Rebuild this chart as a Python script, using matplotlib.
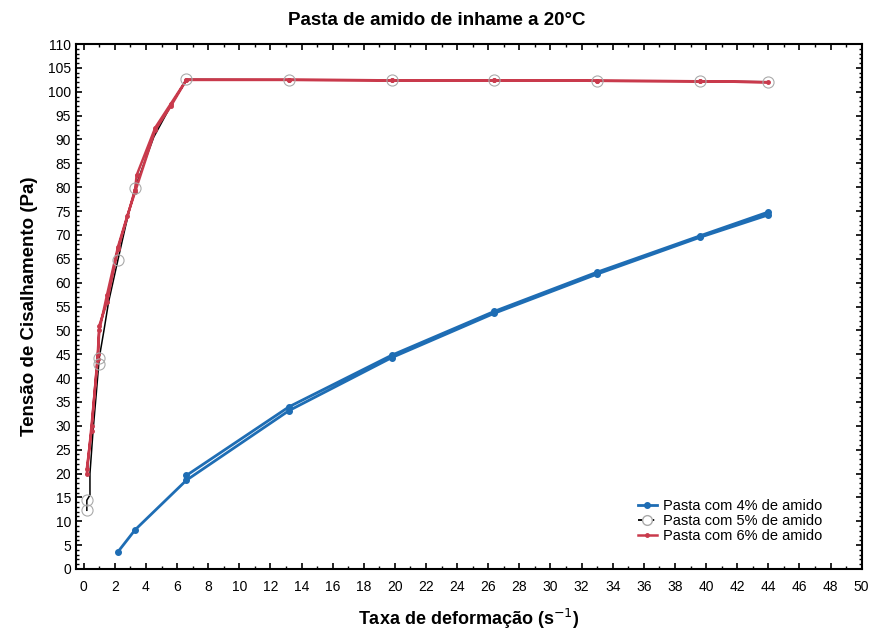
import matplotlib.pyplot as plt
from matplotlib.ticker import MultipleLocator

plt.rcParams['font.family'] = ['Liberation Sans', 'DejaVu Sans']

# -----------------------------
# Data: up curve, then back down
# -----------------------------
x_4 = [2.2, 3.3, 6.6, 13.2, 19.8, 26.4, 33.0, 39.6, 44.0,
       44.0, 39.6, 33.0, 26.4, 19.8, 13.2, 6.6]
y_4 = [3.6, 8.2, 18.6, 33.2, 44.3, 53.6, 61.8, 69.5, 74.2,
       74.8, 69.8, 62.2, 54.0, 44.8, 34.0, 19.6]

x_5 = [0.2, 0.2, 0.4, 0.4, 0.6, 0.8, 1.0, 1.3, 1.6, 2.2, 2.7, 3.3, 4.5, 5.5, 6.6,
       13.2, 19.8, 26.4, 33.0, 39.6, 44.0]
y_5 = [12.3, 14.4, 15.5, 20.0, 29.0, 36.5, 44.3, 50.0, 56.0, 64.8, 72.0, 79.9, 90.5, 96.5, 102.6,
       102.5, 102.4, 102.4, 102.3, 102.2, 102.1]
mark_5 = [0, 1, 6, 9, 11, 14, 15, 16, 17, 18, 19, 20]
x_5b = [0.95]
y_5b = [43.0]

x_6 = [0.2, 0.5, 0.9, 1.0, 1.5, 2.2, 2.8, 3.3, 4.6, 5.6, 6.6,
       13.2, 19.8, 26.4, 33.0, 39.6, 44.0,
       39.6, 33.0, 26.4, 19.8, 13.2, 6.6,
       5.6, 4.6, 3.4, 3.3, 2.2, 1.5, 1.0, 0.9, 0.5, 0.2]
y_6 = [20.0, 30.0, 44.0, 50.0, 57.5, 67.5, 74.0, 79.0, 92.0, 97.0, 102.5,
       102.5, 102.4, 102.4, 102.3, 102.2, 102.0,
       102.2, 102.3, 102.4, 102.4, 102.5, 102.5,
       97.5, 92.5, 82.5, 79.5, 67.0, 56.0, 51.0, 45.0, 29.0, 21.0]

x_ticks = list(range(0, 51, 2))
y_ticks = list(range(0, 111, 5))

# -----------------------------
# Plot
# -----------------------------
fig = plt.figure(figsize=(8.73, 6.32), dpi=100)
ax = fig.add_axes([0.087, 0.0997, 0.9, 0.8306])

blue = '#1e6db4'
red = '#c93a4c'

ax.plot(x_4, y_4, color=blue, linewidth=2, marker='o', markersize=4,
        label='Pasta com 4% de amido', zorder=3)
ax.plot(x_5, y_5, color='black', linewidth=1.1, zorder=2)
ax.plot([x_5[i] for i in mark_5] + x_5b, [y_5[i] for i in mark_5] + y_5b,
        linestyle='none', marker='o', markersize=8, markerfacecolor='none',
        markeredgecolor='#aaaaaa', markeredgewidth=0.8, zorder=4)
ax.plot([], [], color='black', linewidth=1.3, linestyle='--', marker='o', markersize=7,
        markerfacecolor='white', markeredgecolor='#aaaaaa', label='Pasta com 5% de amido')
ax.plot(x_6, y_6, color=red, linewidth=1.8, marker='o', markersize=2.5,
        label='Pasta com 6% de amido', zorder=3)

ax.set_xlim(-0.5, 50)
ax.set_ylim(0, 110)
ax.set_xticks(x_ticks)
ax.set_yticks(y_ticks)
ax.xaxis.set_minor_locator(MultipleLocator(1))
ax.yaxis.set_minor_locator(MultipleLocator(1))
ax.tick_params(which='both', direction='in', top=True, right=True, labelsize=10)
ax.tick_params(which='major', length=4, width=1.2)
ax.tick_params(which='minor', length=2.5, width=1)
ax.tick_params(axis='x', pad=8)
for s in ax.spines.values():
    s.set_linewidth(1.5)

fig.text(0.5, 0.968, 'Pasta de amido de inhame a 20°C', fontsize=13.5, fontweight='bold',
         ha='center', va='center')
ax.set_xlabel('Taxa de deformação (s$^{-1}$)', fontsize=13, fontweight='bold', labelpad=9)
ax.set_ylabel('Tensão de Cisalhamento (Pa)', fontsize=13.5, fontweight='bold', labelpad=7)

ax.legend(loc='lower right', bbox_to_anchor=(0.966, 0.025), frameon=False, fontsize=10.5,
          handlelength=1.3, handletextpad=0.4, labelspacing=0.05)

plt.savefig('out.png', dpi=100)
plt.close()
